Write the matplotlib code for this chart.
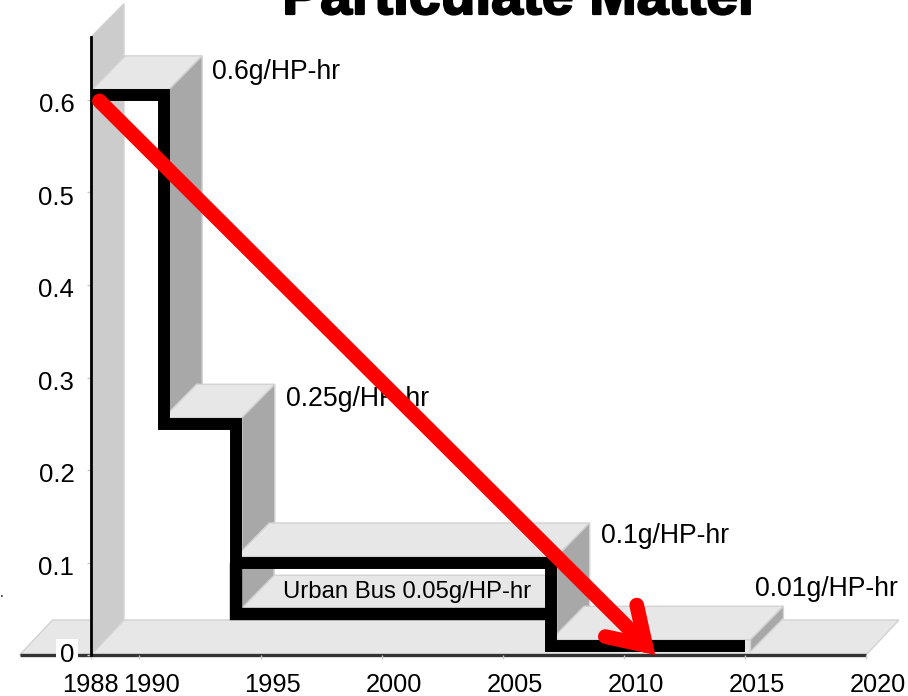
import matplotlib
matplotlib.use("Agg")
import matplotlib.pyplot as plt
import matplotlib.patheffects as pe
from matplotlib.patches import Polygon, FancyArrowPatch
from matplotlib.transforms import ScaledTranslation

plt.rcParams['font.family'] = ['Liberation Sans', 'DejaVu Sans']

W, H = 908, 696

# values
years = [1988, 1990, 1995, 2000, 2005, 2010, 2015, 2020]
y_ticks = [0, 0.1, 0.2, 0.3, 0.4, 0.5, 0.6]
y_labels = ['0', '0.1', '0.2', '0.3', '0.4', '0.5', '0.6']
step_x = [1988.05, 1991, 1991, 1994, 1994, 2007, 2007, 2015]
step_y = [0.605, 0.605, 0.25, 0.25, 0.1, 0.1, 0.01, 0.01]
bus_x = [1994, 1994, 2007]
bus_y = [0.1, 0.044, 0.044]
arrow_x = [1988.35, 2011.3]
arrow_y = [0.599, 0.0]
notes = ['0.6g/HP-hr', '0.25g/HP-hr', '0.1g/HP-hr', '0.01g/HP-hr']
notes_x = [1993.0, 1996.05, 2009.07, 2015.4]
notes_y = [0.630, 0.277, 0.129, 0.071]

fig = plt.figure(figsize=(W / 100, H / 100), dpi=100)
ax = fig.add_axes([91 / W, 1 - 655 / H, (866 - 91) / W, (655 - 37) / H])
ax.set_xlim(1988, 2020)
ax.set_ylim(0, 618 / 925)

# depth of the fake 3d and half the black line, in data units
dx = 33 / 24.22
dy = 33.5 / 925
hx = 5.5 / 24.22
hy = 6 / 925

LIGHT = '#e7e7e7'
SIDE = '#a8a8a8'
EDGE = '#d2d2d2'


def face(pts, color, z=1):
    ax.add_patch(Polygon(pts, closed=True, facecolor=color, edgecolor=EDGE, lw=1, clip_on=False, zorder=z))


# floor and back wall
floor_d = 35 / 925
face([(1985.05, 0), (1985.05 + dx, floor_d), (2020 + dx, floor_d), (2020, 0)], LIGHT)
face([(1988, 0), (1988 + dx, floor_d), (1988 + dx, 0.668 + dy), (1988, 0.668)], '#cccccc')

# raised steps
for x0, x1, y0, y1 in [(1988.05, 1991, 0.605, 0.25), (1991, 1994, 0.25, 0.1),
                       (1994, 2007, 0.1, 0.01), (2007, 2015, 0.01, 0.0)]:
    top = y0 + hy
    face([(x0, top), (x0 + dx, top + dy), (x1 + hx + dx, top + dy), (x1 + hx, top)], LIGHT, 2)
    low = y1 + hy + dy
    if x1 == 2015:
        low = y0 - hy + dy
    face([(x1 + hx, top), (x1 + hx + dx, top + dy), (x1 + hx + dx, low), (x1 + hx, low - dy)], SIDE, 2)

# urban bus box
face([(1994.2, 0.05), (1994.2 + dx, 0.05 + dy), (2007, 0.05 + dy), (2007, 0.05)], LIGHT, 3)
face([(1994.2, 0.094), (1994.2 + dx, 0.094), (1994.2 + dx, 0.05 + dy), (1994.2, 0.05)], SIDE, 3)

ax.plot(step_x, step_y, color='black', lw=8.6, solid_joinstyle='miter', solid_capstyle='butt', zorder=4, clip_on=False)
ax.plot(bus_x, bus_y, color='black', lw=8.9, solid_joinstyle='miter', solid_capstyle='butt', zorder=4, clip_on=False)

for s, x, y in zip(notes, notes_x, notes_y):
    ax.text(x, y, s, fontsize=19.2, va='center', ha='left', zorder=5, clip_on=False)
ax.text(2001.05, 0.068, 'Urban Bus 0.05g/HP-hr', fontsize=17.2, va='center', ha='center', zorder=5)

ax.add_patch(FancyArrowPatch((arrow_x[0], arrow_y[0]), (arrow_x[1], arrow_y[1]),
                             arrowstyle='->,head_length=25,head_width=16', mutation_scale=1,
                             color='#ff0000', lw=10.6, shrinkA=0, shrinkB=0,
                             joinstyle='miter', capstyle='round', zorder=6, clip_on=False))

# axes
for side in ['top', 'right']:
    ax.spines[side].set_visible(False)
ax.spines['left'].set_linewidth(2)
ax.spines['left'].set_color('black')
ax.spines['bottom'].set_visible(False)
ax.plot([1985.05, 2020], [0, 0], color='#333333', lw=2.4, clip_on=False, zorder=1.2, solid_capstyle='butt')

ax.set_xticks(years)
ax.set_xticklabels(years, fontsize=18.3)
ax.set_yticks(y_ticks)
ax.set_yticklabels(y_labels, fontsize=18.5)
ax.tick_params(axis='both', color='#c8c8c8', width=1, length=3)
ax.tick_params(axis='x', pad=10.3)
ax.tick_params(axis='y', pad=9)

for lab, yr in zip(ax.get_xticklabels(), years):
    shift = -1 / 100 if yr == 1988 else 12 / 100
    lab.set_transform(lab.get_transform() + ScaledTranslation(shift, 0, fig.dpi_scale_trans))
for lab, v in zip(ax.get_yticklabels(), y_ticks):
    shift = 2 / 100 if v == 0 else -3 / 100
    lab.set_transform(lab.get_transform() + ScaledTranslation(0, shift, fig.dpi_scale_trans))
    if v == 0:
        lab.set_bbox(dict(facecolor='white', edgecolor='none', pad=3))

# title runs off the top edge
fig.text(521.5 / W, 1 - 14 / H, 'Particulate Matter', fontsize=41, fontweight='bold', ha='center', va='baseline',
         path_effects=[pe.withStroke(linewidth=1.6, foreground='black')])

# stray mark at the left edge
fig.text(0, 1 - 597 / H, '.', fontsize=10, ha='left', va='baseline')

fig.savefig('out.png', dpi=100)
